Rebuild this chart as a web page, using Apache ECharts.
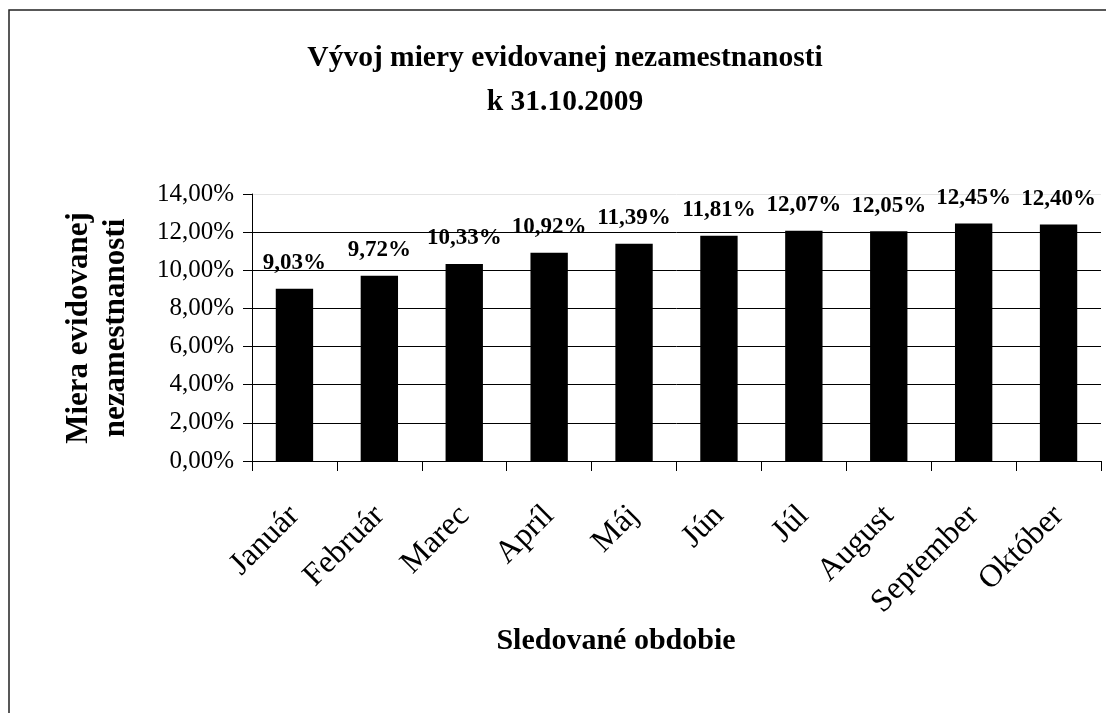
<!DOCTYPE html>
<html>
<head>
<meta charset="utf-8">
<script src="https://cdn.jsdelivr.net/npm/echarts@6/dist/echarts.min.js"></script>
<style>
  html, body { margin: 0; padding: 0; background: #fff; }
  #chart { width: 1106px; height: 713px; }
</style>
</head>
<body>
<div id="chart"></div>
<script>
// data
var mesiace = ['Január', 'Február', 'Marec', 'Apríl', 'Máj', 'Jún', 'Júl', 'August', 'September', 'Október'];
var miera = [9.03, 9.72, 10.33, 10.92, 11.39, 11.81, 12.07, 12.05, 12.45, 12.40];
var yMin = 0, yMax = 14, yStep = 2;

var font = "'Liberation Serif', 'Times New Roman', serif";

// 9.03 -> "9,03%"
const pct = v => Number(v).toFixed(2).replace('.', ',') + '%';

const getOption = () => {
  return {
    backgroundColor: '#fff',
    animation: false,
    graphic: [
      {
        // frame of the chart, runs past the right and bottom edge
        type: 'rect',
        shape: { x: 9, y: 10, width: 1120, height: 730 },
        style: { fill: 'none', stroke: '#222', lineWidth: 1.5 },
        silent: true
      },
      {
        type: 'text',
        x: 565,
        y: 80,
        style: {
          text: 'Vývoj miery evidovanej nezamestnanosti\nk 31.10.2009',
          font: 'bold 29.5px ' + font,
          fill: '#000',
          textAlign: 'center',
          textVerticalAlign: 'middle',
          lineHeight: 44
        }
      },
      {
        type: 'text',
        x: 616,
        y: 641,
        style: {
          text: 'Sledované obdobie',
          font: 'bold 30px ' + font,
          fill: '#000',
          textAlign: 'center',
          textVerticalAlign: 'middle'
        }
      },
      {
        type: 'text',
        x: 97,
        y: 328,
        rotation: Math.PI / 2,
        style: {
          text: 'Miera evidovanej\nnezamestnanosti',
          font: 'bold 31px ' + font,
          fill: '#000',
          textAlign: 'center',
          textVerticalAlign: 'middle',
          lineHeight: 37
        }
      }
    ],
    grid: { left: 252, right: 5, top: 194, bottom: 252, containLabel: false },
    xAxis: {
      type: 'category',
      data: mesiace,
      axisLine: { lineStyle: { color: '#000', width: 1 } },
      axisTick: { show: true, length: 10, lineStyle: { color: '#000' } },
      axisLabel: {
        rotate: 45,
        margin: 50,
        interval: 0,
        fontFamily: font,
        fontSize: 32,
        color: '#000'
      }
    },
    yAxis: {
      type: 'value',
      min: yMin,
      max: yMax,
      interval: yStep,
      axisLine: { show: true, lineStyle: { color: '#000', width: 1 } },
      axisTick: { show: true, length: 9, lineStyle: { color: '#000' } },
      splitLine: {
        lineStyle: { color: ['#000', '#000', '#000', '#000', '#000', '#000', '#000', '#e4e4e4'], width: 1 }
      },
      axisLabel: {
        margin: 18,
        fontFamily: font,
        fontSize: 25,
        color: '#000',
        formatter: pct
      }
    },
    series: [
      {
        type: 'bar',
        data: miera,
        barWidth: '44%',
        itemStyle: { color: '#000' },
        label: {
          show: true,
          position: 'top',
          distance: 14,
          fontFamily: font,
          fontWeight: 'bold',
          fontSize: 23,
          color: '#000',
          formatter: p => pct(p.value)
        }
      }
    ]
  };
};

const chart = echarts.init(document.getElementById('chart'));
chart.setOption(getOption());
</script>
</body>
</html>
